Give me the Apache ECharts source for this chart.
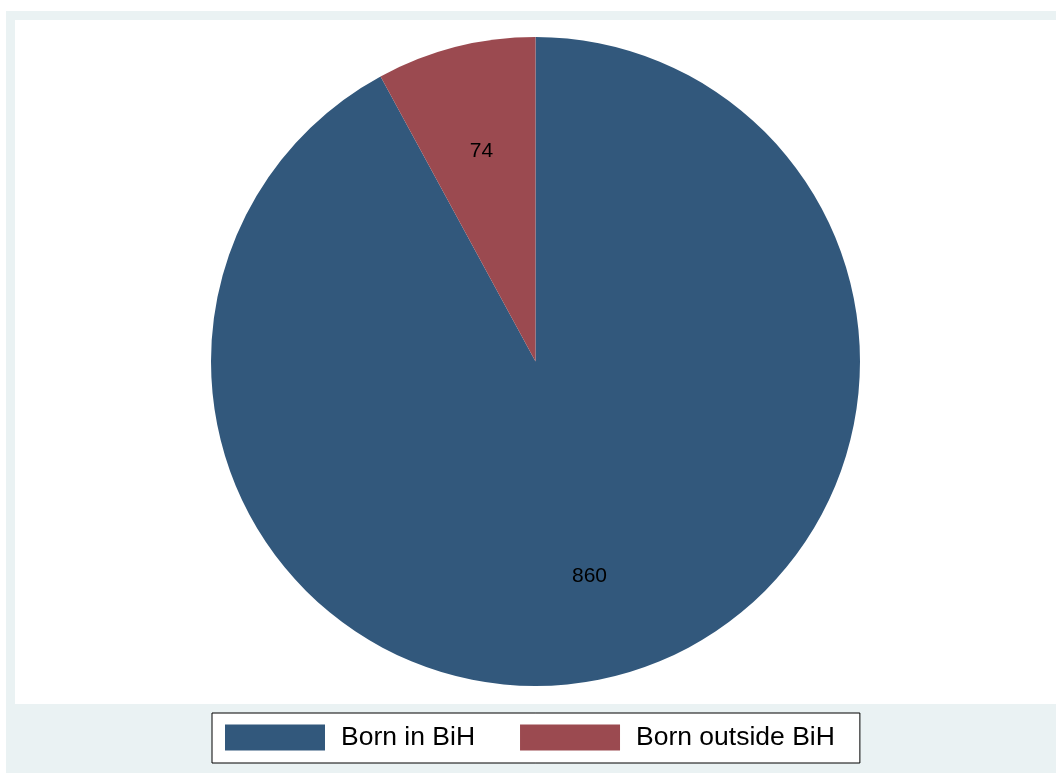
<!DOCTYPE html>
<html>
<head>
<meta charset="utf-8">
<script src="https://cdn.jsdelivr.net/npm/echarts@6/dist/echarts.min.js"></script>
<style>
html,body{margin:0;padding:0;background:#ffffff;}
#chart{width:1056px;height:774px;}
</style>
</head>
<body>
<div id="chart"></div>
<script>
var categories = ['Born in BiH', 'Born outside BiH'];
var values = [860, 74];
var colors = ['#32587C', '#9B4A50'];

var pieData = categories.map(function (c, i) {
  return { name: c, value: values[i], itemStyle: { color: colors[i] } };
});
var labelData = categories.map(function (c, i) {
  return { name: c, value: values[i] };
});

var chart = echarts.init(document.getElementById('chart'), null, { renderer: 'canvas' });
chart.setOption({
  animation: false,
  backgroundColor: '#ffffff',
  graphic: [
    { type: 'rect', silent: true, z: -10, shape: { x: 6, y: 11, width: 1050, height: 762 }, style: { fill: '#EAF2F3' } },
    { type: 'rect', silent: true, z: -9, shape: { x: 15, y: 20, width: 1041, height: 684 }, style: { fill: '#ffffff' } }
  ],
  legend: {
    data: categories,
    left: 212,
    top: 713,
    orient: 'horizontal',
    backgroundColor: '#ffffff',
    borderColor: '#000000',
    borderWidth: 1,
    borderRadius: 0,
    padding: [11, 25, 12, 13],
    itemWidth: 100,
    itemHeight: 26,
    itemGap: 45,
    icon: 'rect',
    selectedMode: false,
    textStyle: { fontFamily: 'Liberation Sans', fontSize: 26.5, color: '#000000', padding: [0, 0, 0, 11] }
  },
  series: [
    {
      type: 'pie',
      center: [535.5, 361.5],
      radius: [0, 324.5],
      startAngle: 90,
      clockwise: true,
      label: { show: false },
      labelLine: { show: false },
      emphasis: { disabled: true },
      itemStyle: { borderWidth: 0 },
      data: pieData
    },
    {
      type: 'pie',
      center: [535.5, 361.5],
      radius: [108, 324.5],
      startAngle: 90,
      clockwise: true,
      silent: true,
      emphasis: { disabled: true },
      itemStyle: { color: 'rgba(0,0,0,0)', borderWidth: 0 },
      label: {
        show: true,
        position: 'inside',
        formatter: '{c}',
        fontFamily: 'Liberation Sans',
        fontSize: 21,
        color: '#000000',
        offset: [0, 2]
      },
      labelLine: { show: false },
      data: labelData
    }
  ]
});
</script>
</body>
</html>
